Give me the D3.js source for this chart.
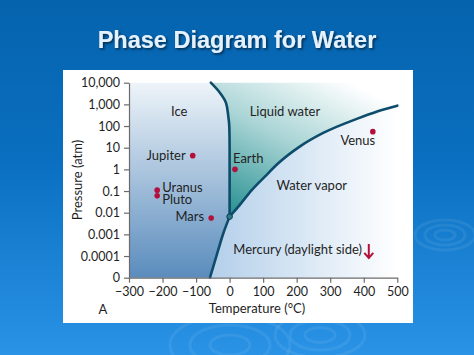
<!DOCTYPE html>
<html>
<head>
<meta charset="utf-8">
<script src="https://cdn.jsdelivr.net/npm/d3@7"></script>
<style>
  html, body { margin: 0; padding: 0; }
  body { width: 474px; height: 355px; overflow: hidden; }
  svg text { font-family: Lato, "Open Sans", sans-serif; fill: #1f1f1f; }
</style>
</head>
<body>
<div id="chart"></div>
<script>
// Axis ticks
const tempTicks = [-300, -200, -100, 0, 100, 200, 300, 400, 500];
const presTicks = [1e-5, 1e-4, 1e-3, 1e-2, 1e-1, 1, 10, 100, 1000, 10000];
const presLabels = ["0", "0.0001", "0.001", "0.01", "0.1", "1", "10", "100", "1,000", "10,000"];

// Phase boundaries (temperature in °C, pressure in atm)
const meltT = [0, 0, -1, -4, -11, -29, -56];
const meltP = [0.0066, 10, 100, 290, 1200, 3450, 10000];
const vapT = [0, 26, 66, 105, 145, 210, 279, 379, 440, 500];
const vapP = [0.0066, 0.019, 0.11, 0.46, 1.9, 11.5, 48, 214, 470, 870];
const subT = [0, -19, -34, -49, -58.5];
const subP = [0.0066, 0.0011, 0.00019, 0.000032, 0.00001];

// Planets
const planetNames = ["Jupiter", "Earth", "Uranus", "Pluto", "Mars", "Venus"];
const planetT = [-110, 16, -216, -216, -55, 427];
const planetP = [4.3, 1.0, 0.11, 0.06, 0.0057, 55];

const W = 474, H = 355;
const svg = d3.select("#chart").append("svg")
    .attr("width", W).attr("height", H);

const defs = svg.append("defs");

// page background
const bg = defs.append("linearGradient").attr("id", "bg")
    .attr("x1", 0).attr("y1", 0).attr("x2", 0).attr("y2", 1);
bg.append("stop").attr("offset", "0%").attr("stop-color", "#0563ad");
bg.append("stop").attr("offset", "45%").attr("stop-color", "#0a6fc0");
bg.append("stop").attr("offset", "100%").attr("stop-color", "#2a93e6");

const ice = defs.append("linearGradient").attr("id", "ice")
    .attr("x1", 0).attr("y1", 0).attr("x2", 0).attr("y2", 1);
ice.append("stop").attr("offset", "0%").attr("stop-color", "#eef4f9");
ice.append("stop").attr("offset", "100%").attr("stop-color", "#5a8cbd");

const liq = defs.append("linearGradient").attr("id", "liq")
    .attr("x1", 0.05).attr("y1", 1).attr("x2", 0.75).attr("y2", 0);
liq.append("stop").attr("offset", "0%").attr("stop-color", "#1f8c8c");
liq.append("stop").attr("offset", "55%").attr("stop-color", "#a9d4d5");
liq.append("stop").attr("offset", "100%").attr("stop-color", "#ffffff");

const vap = defs.append("linearGradient").attr("id", "vap")
    .attr("x1", 0).attr("y1", 0).attr("x2", 1).attr("y2", 0);
vap.append("stop").attr("offset", "0%").attr("stop-color", "#b3cfea");
vap.append("stop").attr("offset", "100%").attr("stop-color", "#ffffff");

const shadow = defs.append("filter").attr("id", "shadow")
    .attr("x", "-10%").attr("y", "-30%").attr("width", "120%").attr("height", "160%");
shadow.append("feDropShadow").attr("dx", 1.5).attr("dy", 1.5)
    .attr("stdDeviation", 0.8).attr("flood-color", "#06203d").attr("flood-opacity", 0.9);

svg.append("rect").attr("width", W).attr("height", H).attr("fill", "url(#bg)");

// faint ripples on the background
[[230, 345, 60], [320, 335, 45], [445, 235, 30]].forEach(([cx, cy, r]) => {
  for (let k = 1; k <= 3; k++) {
    svg.append("ellipse")
      .attr("cx", cx).attr("cy", cy)
      .attr("rx", r * k / 3).attr("ry", r * k / 6)
      .attr("fill", "none").attr("stroke", "#ffffff")
      .attr("stroke-opacity", 0.07).attr("stroke-width", 3);
  }
});

// title
svg.append("text")
    .attr("x", 237).attr("y", 48)
    .attr("text-anchor", "middle")
    .style("font-family", "'Liberation Sans', Arial, sans-serif")
    .style("font-weight", "bold")
    .style("font-size", "23.5px")
    .style("fill", "#e4f2ff")
    .attr("filter", "url(#shadow)")
    .text("Phase Diagram for Water");

// white panel
svg.append("rect").attr("x", 63).attr("y", 70).attr("width", 350).attr("height", 253)
    .attr("fill", "#ffffff");

// scales
const x = d3.scaleLinear().domain([-300, 500]).range([129, 397.3]);
const y = d3.scaleLog().domain([1e-5, 1e4]).range([277.7, 82.7]);

const zip = (ts, ps) => ts.map((t, i) => [t, ps[i]]);
const melt = zip(meltT, meltP);
const vapor = zip(vapT, vapP);
const subl = zip(subT, subP);

const line = d3.line().x(d => x(d[0])).y(d => y(d[1])).curve(d3.curveMonotoneY);
const lineV = d3.line().x(d => x(d[0])).y(d => y(d[1])).curve(d3.curveMonotoneX);

const curvePts = (gen, pts) => {
  // sample the curve path so the fills follow the same shape as the lines
  const p = document.createElementNS("http://www.w3.org/2000/svg", "path");
  p.setAttribute("d", gen(pts));
  svg.node().appendChild(p);
  const len = p.getTotalLength(), out = [];
  for (let i = 0; i <= 80; i++) {
    const q = p.getPointAtLength(len * i / 80);
    out.push([q.x, q.y]);
  }
  p.remove();
  return out;
};

const meltC = curvePts(line, melt);            // triple -> top
const vapC = curvePts(lineV, vapor);           // triple -> right
const subC = curvePts(line, subl);             // triple -> bottom
const poly = pts => "M" + pts.map(p => p.join(",")).join("L") + "Z";

const x0 = x(-300), x1 = x(500), yTop = y(1e4), yBot = y(1e-5);

// ice region
svg.append("path")
    .attr("d", poly([[x0, yTop], ...meltC.slice().reverse(), ...subC, [x0, yBot]]))
    .attr("fill", "url(#ice)");
// liquid region
svg.append("path")
    .attr("d", poly([...meltC, [x1, yTop], ...vapC.slice().reverse()]))
    .attr("fill", "url(#liq)");
// vapor region
svg.append("path")
    .attr("d", poly([...vapC, [x1, yBot], ...subC.slice().reverse()]))
    .attr("fill", "url(#vap)");

// boundaries
const curveColor = "#0d4c6b";
[[line, melt], [lineV, vapor], [line, subl]].forEach(([g, d]) => {
  svg.append("path").attr("d", g(d))
     .attr("fill", "none").attr("stroke", curveColor)
     .attr("stroke-width", 2.6).attr("stroke-linecap", "round");
});

// triple point
svg.append("circle")
    .attr("cx", x(meltT[0])).attr("cy", y(meltP[0])).attr("r", 2.8)
    .attr("fill", "#2b7c82").attr("stroke", "#0b3550").attr("stroke-width", 1);

// axes
const axisColor = "#6b6b6b";
const gx = svg.append("g").attr("transform", `translate(0,${yBot})`)
    .call(d3.axisBottom(x).tickValues(tempTicks).tickSize(5).tickSizeOuter(0).tickPadding(4));
const gy = svg.append("g").attr("transform", `translate(${x0},0)`)
    .call(d3.axisLeft(y).tickValues(presTicks).tickFormat((d, i) => presLabels[i])
      .tickSize(5).tickSizeOuter(0).tickPadding(4));
[gx, gy].forEach(g => {
  g.select(".domain").attr("stroke", axisColor).attr("stroke-width", 1.2);
  g.selectAll(".tick line").attr("stroke", axisColor).attr("stroke-width", 1.2);
  g.selectAll(".tick text")
    .style("font-family", "Lato, 'Open Sans', sans-serif")
    .style("font-size", "12.5px").style("fill", "#1f1f1f");
});

// axis titles
svg.append("text")
    .attr("x", 257).attr("y", 313)
    .attr("text-anchor", "middle").style("font-size", "13px")
    .text("Temperature (°C)");
svg.append("text")
    .attr("x", 103).attr("y", 314)
    .attr("text-anchor", "middle").style("font-size", "13px")
    .text("A");
svg.append("text")
    .attr("transform", "translate(82,180) rotate(-90)")
    .attr("text-anchor", "middle").style("font-size", "13px")
    .text("Pressure (atm)");

// region labels
const regionNames = ["Ice", "Liquid water", "Water vapor"];
const regionT = [-150, 165, 245];
const regionP = [300, 300, 0.11];
svg.selectAll(".region").data(regionNames).join("text")
    .attr("class", "region")
    .attr("x", (d, i) => x(regionT[i])).attr("y", (d, i) => y(regionP[i]))
    .attr("text-anchor", "middle").style("font-size", "13px")
    .text(d => d);

// planets
const dotColor = "#b3113b";
svg.selectAll(".planet").data(planetNames).join("circle")
    .attr("class", "planet")
    .attr("cx", (d, i) => x(planetT[i])).attr("cy", (d, i) => y(planetP[i]))
    .attr("r", 2.8).attr("fill", dotColor);

const labelAnchor = { Jupiter: "end", Earth: "start", Uranus: "start", Pluto: "start", Mars: "end", Venus: "middle" };
const labelDx = { Jupiter: -7, Earth: -2, Uranus: 5, Pluto: 5, Mars: -7, Venus: -15 };
const labelDy = { Jupiter: 4, Earth: -6, Uranus: 1.5, Pluto: 8, Mars: 3, Venus: 13 };
svg.selectAll(".plabel").data(planetNames).join("text")
    .attr("class", "plabel")
    .attr("x", (d, i) => x(planetT[i]) + labelDx[d])
    .attr("y", (d, i) => y(planetP[i]) + labelDy[d])
    .attr("text-anchor", d => labelAnchor[d]).style("font-size", "13px")
    .text(d => d);

// Mercury (pressure effectively zero, off the bottom)
const mercT = 415, mercLabelT = 11, mercLabelP = 1.25e-4;
svg.append("text")
    .attr("x", x(mercLabelT)).attr("y", y(mercLabelP))
    .style("font-size", "13px")
    .text("Mercury (daylight side)");
const ax = x(mercT), ay = y(mercLabelP);
svg.append("path")
    .attr("d", `M${ax},${ay - 10}L${ax},${ay + 4}M${ax - 4.5},${ay - 1}L${ax},${ay + 4}L${ax + 4.5},${ay - 1}`)
    .attr("fill", "none").attr("stroke", dotColor).attr("stroke-width", 2);
</script>
</body>
</html>
